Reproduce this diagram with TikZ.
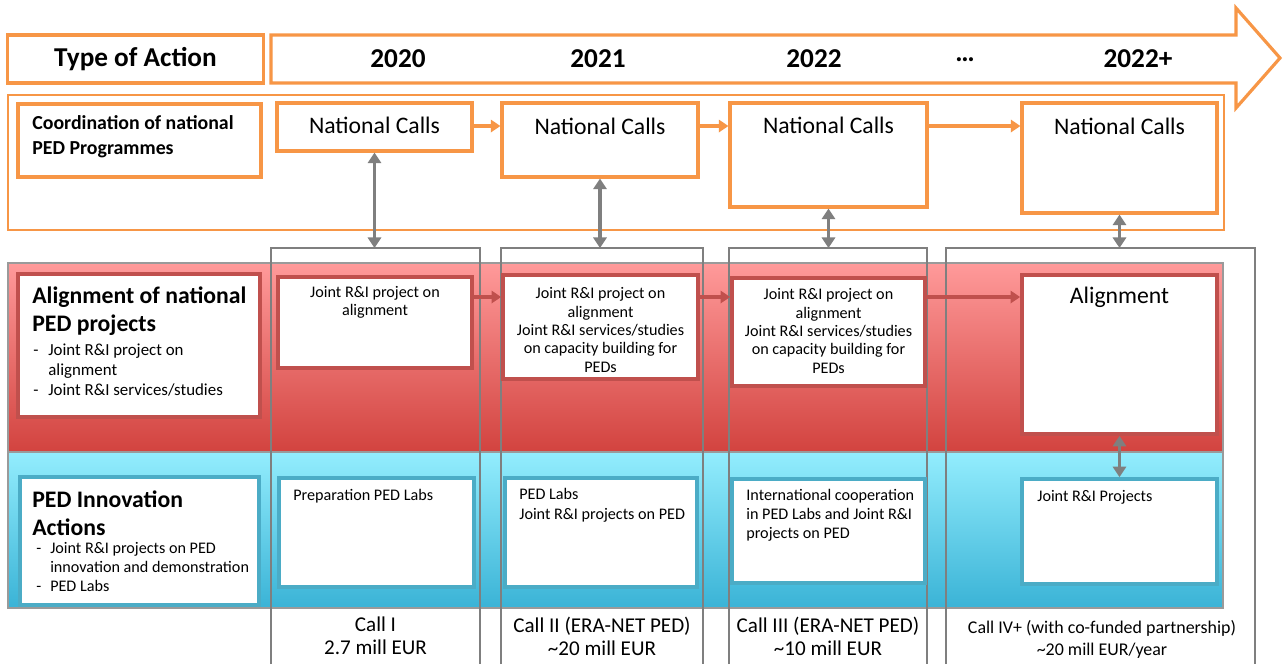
\documentclass[tikz,border=0pt]{standalone}
\usepackage{fontspec}
\setmainfont{Carlito}
\usetikzlibrary{arrows.meta}
\definecolor{org}{HTML}{F79646}
\definecolor{gry}{HTML}{7F7F7F}
\definecolor{redb}{HTML}{C0504D}
\definecolor{redtop}{HTML}{FF9A9A}
\definecolor{redbot}{HTML}{D2433F}
\definecolor{bluetop}{HTML}{93EDFD}
\definecolor{bluebot}{HTML}{3AB3D6}
\definecolor{blueb}{HTML}{4BACC6}
\definecolor{bandb}{HTML}{9A9A9A}
\begin{document}
\begin{tikzpicture}[x=0.02cm,y=-0.02cm,
  sz/.style 2 args={minimum width=#1*0.02cm,minimum height=#2*0.02cm},
  obox/.style={draw=org,line width=1.8pt,fill=white,inner sep=0pt},
  rbox/.style={draw=redb,line width=2.1pt,fill=white,inner sep=0pt},
  bbox/.style={draw=blueb,line width=2.1pt,fill=white,inner sep=0pt},
  band/.style={draw=bandb,line width=1pt,inner sep=0pt},
  colframe/.style={draw=gry,line width=1.3pt},
  oarr/.style={draw=org,line width=1.8pt,-{Triangle[length=5.5pt,width=7pt]}},
  rarr/.style={draw=redb,line width=1.8pt,-{Triangle[length=5.5pt,width=7pt]}},
  garr/.style={draw=gry,line width=1.8pt,{Triangle[length=6pt,width=7.5pt]}-{Triangle[length=6pt,width=7.5pt]}},
  hd/.style={font=\fontsize{15.5}{18}\selectfont\bfseries,inner sep=0pt},
  nctext/.style={font=\fontsize{13.5}{16}\selectfont,inner sep=0pt},
  sm/.style={font=\fontsize{9.2}{10.5}\selectfont,align=center,inner sep=0pt},
  smleft/.style={font=\fontsize{9.2}{11.1}\selectfont,align=left,inner sep=0pt,anchor=west},
  calltext/.style={font=\fontsize{12}{13}\selectfont,align=center,inner sep=0pt},
  ttl/.style={font=\fontsize{13.5}{15.7}\selectfont\bfseries,align=left,inner sep=0pt,anchor=west},
]
\useasboundingbox (0,0) rectangle (1283,664);

% header
\node[obox,line width=1.1pt,sz={1216}{135}] (coord) at (616,162.5) {};
\node[obox,sz={256}{48}] (toa) at (135.5,59) {};
\node[hd] (toatext) at (135.5,59) {Type of Action};
\path[draw=org,line width=1.8pt,fill=white,line join=miter] (271,35) -- (1236,35) -- (1236,8) -- (1280,58) -- (1236,108) -- (1236,83) -- (271,83) -- cycle;
\node[hd] (y20) at (398,59) {2020};
\node[hd] (y21) at (598,59) {2021};
\node[hd] (y22) at (814,59) {2022};
\node[hd] (ydots) at (965,60) {\ldots};
\node[hd] (y22p) at (1138,59) {2022+};

% coordination row
\node[obox,sz={243}{73}] (coordlab) at (139.5,140.5) {};
\node[font=\fontsize{11.3}{14.2}\selectfont\bfseries,align=left,inner sep=0pt,anchor=west] (coordtext) at (32,136.5) {Coordination of national\\PED Programmes};
\node[obox,sz={195}{48}] (nc1) at (374.5,127) {};
\node[obox,sz={196}{74}] (nc2) at (600,140) {};
\node[obox,sz={197}{104}] (nc3) at (828.5,155) {};
\node[obox,sz={195}{110}] (nc4) at (1119.5,158) {};
\node[nctext] (nc1t) at (374.5,125) {National Calls};
\node[nctext] (nc2t) at (600,126) {National Calls};
\node[nctext] (nc3t) at (828.5,125) {National Calls};
\node[nctext] (nc4t) at (1119.5,126) {National Calls};
\coordinate (oy) at (0,126);
\draw[oarr] (nc1.east |- oy) -- (nc2.west |- oy);
\draw[oarr] (nc2.east |- oy) -- (nc3.west |- oy);
\draw[oarr] (nc3.east |- oy) -- (nc4.west |- oy);

% bands
\node[band,top color=redtop,bottom color=redbot,sz={1215}{189}] (redband) at (615.5,357.5) {};
\node[band,top color=bluetop,bottom color=bluebot,sz={1215}{156}] (blueband) at (615.5,530) {};

% column frames
\draw[colframe] (271,664) -- (271,248) -- (480,248) -- (480,664);
\draw[colframe] (501,664) -- (501,248) -- (703,248) -- (703,664);
\draw[colframe] (729,664) -- (729,248) -- (927,248) -- (927,664);
\draw[colframe] (946,664) -- (946,248) -- (1255,248) -- (1255,664);
\coordinate (coltop) at (0,248);
\draw[garr] (nc1.south) -- (nc1.south |- coltop);
\draw[garr] (nc2.south) -- (nc2.south |- coltop);
\draw[garr] (nc3.south) -- (nc3.south |- coltop);
\draw[garr] (nc4.south) -- (nc4.south |- coltop);

% red row
\node[rbox,sz={242}{143}] (redlab) at (139,345.5) {};
\node[ttl] (redtitle) at (32,311) {Alignment of national\\PED projects};
\node[font=\fontsize{9.6}{11.6}\selectfont,inner sep=0pt,anchor=west] (redlist) at (33,371.5) {\begin{tabular}{@{}l@{\hspace{5.6pt}}l@{}}-&Joint R\&I project on\\&alignment\\-&Joint R\&I services/studies\end{tabular}};
\node[rbox,sz={194}{91}] (rb1) at (375,322.5) {};
\node[rbox,sz={195}{104}] (rb2) at (600.5,327) {};
\node[rbox,sz={193}{108}] (rb3) at (828.5,332) {};
\node[rbox,sz={195}{159}] (al) at (1119.5,354.5) {};
\node[sm] (rb1t) at (375,302.5) {Joint R\&I project on\\alignment};
\node[sm] (rb2t) at (600.5,330) {Joint R\&I project on\\alignment\\Joint R\&I services/studies\\on capacity building for\\PEDs};
\node[sm] (rb3t) at (828.5,331) {Joint R\&I project on\\alignment\\Joint R\&I services/studies\\on capacity building for\\PEDs};
\node[nctext] (alt) at (1119.5,297) {Alignment};
\coordinate (ry) at (0,297);
\draw[rarr] (rb1.east |- ry) -- (rb2.west |- ry);
\draw[rarr] (rb2.east |- ry) -- (rb3.west |- ry);
\draw[rarr] (rb3.east |- ry) -- (al.west |- ry);

% blue row
\node[bbox,sz={239}{128}] (bluelab) at (139.5,541) {};
\node[ttl] (bluetitle) at (32,513.5) {PED Innovation\\Actions};
\node[font=\fontsize{9.2}{10.8}\selectfont,inner sep=0pt,anchor=west] (bluelist) at (36,569) {\begin{tabular}{@{}l@{\hspace{5.1pt}}l@{}}-&Joint R\&I projects on PED\\&innovation and demonstration\\-&PED Labs\end{tabular}};
\node[bbox,sz={195}{109}] (bb1) at (376.5,532.5) {};
\node[bbox,sz={192}{109}] (bb2) at (601,532.5) {};
\node[bbox,sz={193}{104}] (bb3) at (828.5,531) {};
\node[bbox,sz={195}{105}] (bb4) at (1119.5,531.5) {};
\node[smleft] (bb1t) at (293,496) {Preparation PED Labs};
\node[smleft,font=\fontsize{9.2}{11.3}\selectfont] (bb2t) at (519,505) {PED Labs\\Joint R\&I projects on PED};
\node[smleft,font=\fontsize{9.2}{10.8}\selectfont] (bb3t) at (746,515) {International cooperation\\in PED Labs and Joint R\&I\\projects on PED};
\node[smleft] (bb4t) at (1037,497) {Joint R\&I Projects};
\draw[garr] (al.south) -- (bb4.north);

% call labels
\node[calltext] (call1) at (375.5,636) {Call I\\2.7 mill EUR};
\node[calltext] (call2) at (602,636) {Call II (ERA-NET PED)\\\textasciitilde20 mill EUR};
\node[calltext] (call3) at (828,636) {Call III (ERA-NET PED)\\\textasciitilde10 mill EUR};
\node[calltext,font=\fontsize{10.2}{12.5}\selectfont] (call4) at (1102,639) {Call IV+ (with co-funded partnership)\\\textasciitilde20 mill EUR/year};
\end{tikzpicture}
\end{document}
